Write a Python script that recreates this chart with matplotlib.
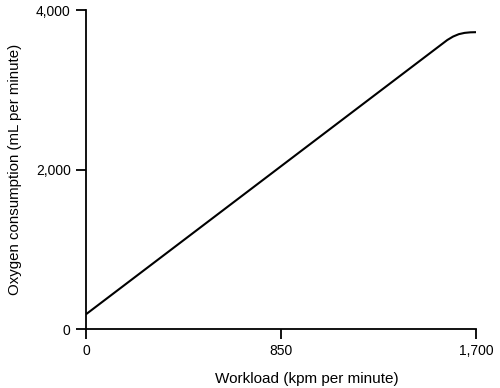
import matplotlib
matplotlib.use("Agg")
import matplotlib.pyplot as plt
from matplotlib.ticker import FuncFormatter

plt.rcParams['font.family'] = ['Liberation Sans', 'DejaVu Sans']

workload = [0, 1575, 1600, 1625, 1650, 1675, 1700]
oxygen = [185, 3625, 3668, 3698, 3714, 3721, 3723]
x_ticks = [0, 850, 1700]
y_ticks = [0, 2000, 4000]

fig = plt.figure(figsize=(5, 3.88), dpi=100)
ax = fig.add_axes([0.172, 0.152, 0.78, 0.822])
ax.plot(workload, oxygen, color='black', lw=1.5, solid_capstyle='butt')
ax.set_xlim(0, 1700)
ax.set_ylim(0, 4000)
ax.set_xticks(x_ticks)
ax.set_yticks(y_ticks)
fmt = FuncFormatter(lambda v, p: f"{int(v):,}")
ax.xaxis.set_major_formatter(fmt)
ax.yaxis.set_major_formatter(fmt)
for s in ['top', 'right']:
    ax.spines[s].set_visible(False)
for s in ['left', 'bottom']:
    ax.spines[s].set_linewidth(1.3)
ax.tick_params(direction='out', length=7, width=1.3, labelsize=10, pad=4)
ax.set_xlabel('Workload (kpm per minute)', fontsize=11, labelpad=10)
ax.xaxis.set_label_coords(0.567, -0.135)
ax.set_ylabel('Oxygen consumption (mL per minute)', fontsize=10.8, labelpad=10)
fig.savefig('out.png', dpi=100)
